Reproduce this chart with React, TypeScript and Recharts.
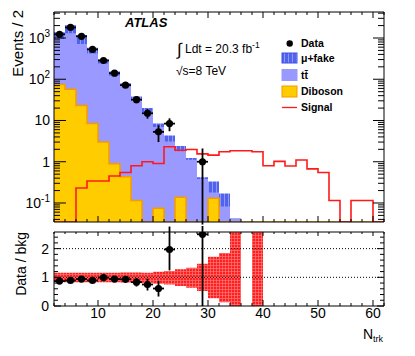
import React from 'react';
import { ComposedChart, Area, Line, Scatter, ErrorBar, XAxis, YAxis, ReferenceLine } from 'recharts';

// ---------- data ----------
const BIN_EDGES = [2, 4, 6, 8, 10, 12, 14, 16, 18, 20, 22, 24, 26, 28, 30, 32, 34, 36, 38, 40, 42, 44, 46, 48, 50, 52, 54, 56, 58, 60, 62];
const BKG_TOTAL = [1380, 2050, 1180, 580, 300, 155, 80, 38, 20, 8.5, 4.3, 2.4, 1.23, 0.42, 0.33, 0.17, 0.042, 0, 0, 0, 0, 0, 0, 0, 0, 0, 0, 0, 0, 0];
const MU_FAKE = [440, 740, 460, 160, 60, 31, 12, 7.6, 4, 1.5, 1.2, 0.6, 0.12, 0.04, 0.15, 0.088, 0, 0, 0, 0, 0, 0, 0, 0, 0, 0, 0, 0, 0, 0];
const DIBOSON = [75, 57, 23, 8.5, 3.0, 0.9, 0.43, 0.115, 0, 0.075, 0, 0.138, 0, 0, 0.13, 0, 0, 0, 0, 0, 0, 0, 0, 0, 0, 0, 0, 0, 0, 0];
const SIGNAL = [0, 0, 0.23, 0.34, 0.34, 0.45, 0.55, 0.8, 1.0, 0.91, 2.3, 1.9, 1.98, 1.55, 1.45, 1.75, 1.84, 1.84, 1.75, 0.8, 1.02, 0.79, 1.1, 0.67, 0.55, 0.115, 0, 0.115, 0.115, 0];

const DATA_X = [3, 5, 7, 9, 11, 13, 15, 17, 19, 21, 23, 29];
const DATA_Y = [1230, 1800, 1100, 530, 285, 140, 72, 32, 15, 5.3, 8.4, 1.0];
const DATA_ERR_LO = [35, 42, 33, 23, 17, 12, 8.5, 5.7, 3.9, 2.3, 2.9, 0.97];
const DATA_ERR_HI = [35, 42, 33, 23, 17, 12, 8.5, 5.7, 3.9, 2.3, 2.9, 1.1];

const RATIO_Y = [0.87, 0.89, 0.94, 0.89, 0.99, 0.94, 0.93, 0.83, 0.75, 0.61, 1.97, 2.5];
const RATIO_ERR_LO = [0.03, 0.025, 0.03, 0.04, 0.06, 0.08, 0.11, 0.15, 0.21, 0.28, 0.73, 2.5];
const RATIO_ERR_HI = [0.03, 0.025, 0.03, 0.04, 0.06, 0.08, 0.11, 0.15, 0.2, 0.27, 0.8, 3];

const BAND_LO = [0.83, 0.83, 0.83, 0.83, 0.83, 0.83, 0.82, 0.82, 0.81, 0.78, 0.75, 0.7, 0.64, 0.52, 0.27, 0.13, 0, 0, 0, 0, 0, 0, 0, 0, 0, 0, 0, 0, 0, 0];
const BAND_HI = [1.16, 1.16, 1.16, 1.16, 1.16, 1.16, 1.17, 1.17, 1.16, 1.19, 1.22, 1.28, 1.33, 1.47, 1.72, 1.85, 3, 0, 3, 0, 0, 0, 0, 0, 0, 0, 0, 0, 0, 0];

// ---------- axes ----------
const X_DOMAIN: [number, number] = [2, 62];
const X_TICKS = [2, 4, 6, 8, 10, 12, 14, 16, 18, 20, 22, 24, 26, 28, 30, 32, 34, 36, 38, 40, 42, 44, 46, 48, 50, 52, 54, 56, 58, 60, 62];
const X_MAJORS = [10, 20, 30, 40, 50, 60];

const Y_MIN = 0.0346;
const Y_MAX = 4270;
const Y_TICKS_MAIN = [0.04, 0.05, 0.06, 0.07, 0.08, 0.09, 0.1, 0.2, 0.3, 0.4, 0.5, 0.6, 0.7, 0.8, 0.9, 1, 2, 3, 4, 5, 6, 7, 8, 9, 10, 20, 30, 40, 50, 60, 70, 80, 90, 100, 200, 300, 400, 500, 600, 700, 800, 900, 1000, 2000, 3000, 4000];
const Y_MAJORS_MAIN = [0.1, 1, 10, 100, 1000];
const Y_LABEL_BASE = ['10', '1', '10', '10', '10'];
const Y_LABEL_EXP = ['-1', '', '', '2', '3'];

const R_DOMAIN: [number, number] = [0, 2.58];
const R_TICKS = [0, 0.2, 0.4, 0.6, 0.8, 1, 1.2, 1.4, 1.6, 1.8, 2, 2.2, 2.4];
const R_MAJORS = [0, 1, 2];

const FONT = '"Liberation Sans", Arial, Helvetica, sans-serif';

const floorLog = (v: number) => (v > Y_MIN ? v : Y_MIN);
const last = BKG_TOTAL.length - 1;

const histTable = BIN_EDGES.map((x, i) => {
  const k = Math.min(i, last);
  return {
    x,
    total: floorLog(BKG_TOTAL[k]),
    ttdib: floorLog(BKG_TOTAL[k] - MU_FAKE[k]),
    dib: floorLog(DIBOSON[k]),
    sig: floorLog(SIGNAL[k]),
  };
});

const ratioTable = BIN_EDGES.map((x, i) => {
  const k = Math.min(i, last);
  return { x, band: [BAND_LO[k], BAND_HI[k]] };
});

const dataPoints = DATA_X.map((x, i) => ({ x, y: DATA_Y[i], ey: [DATA_ERR_LO[i], DATA_ERR_HI[i]], ex: 1 }));
const ratioPoints = DATA_X.map((x, i) => ({ x, y: RATIO_Y[i], ey: [RATIO_ERR_LO[i], RATIO_ERR_HI[i]], ex: 1 }));

// ---------- ticks ----------
type Side = 'l' | 'r' | 't' | 'b';
function makeTick(side: Side, majors: number[], majLen: number, minLen: number, label?: (v: number, x: number, y: number) => React.ReactNode) {
  return (p: any) => {
    const x = p.x as number;
    const y = p.y as number;
    const v = p.payload ? p.payload.value : 0;
    const maj = majors.some((m) => Math.abs(m - v) < 1e-9);
    const len = maj ? majLen : minLen;
    let l: React.ReactNode = null;
    if (side === 'l') l = <line x1={x} y1={y} x2={x + len} y2={y} stroke="#000" strokeWidth={1} />;
    if (side === 'r') l = <line x1={x} y1={y} x2={x - len} y2={y} stroke="#000" strokeWidth={1} />;
    if (side === 'b') l = <line x1={x} y1={y} x2={x} y2={y - len} stroke="#000" strokeWidth={1} />;
    if (side === 't') l = <line x1={x} y1={y} x2={x} y2={y + len} stroke="#000" strokeWidth={1} />;
    return (
      <g>
        {l}
        {maj && label ? label(v, x, y) : null}
      </g>
    );
  };
}

const mainYLabel = (v: number, x: number, y: number) => {
  const i = Y_MAJORS_MAIN.findIndex((m) => Math.abs(m - v) < 1e-9);
  return (
    <text x={x - 4} y={y + 5} textAnchor="end" fontSize={14} fontFamily={FONT} fill="#000">
      {Y_LABEL_BASE[i]}
      {Y_LABEL_EXP[i] ? (
        <tspan dy={-6} fontSize={10}>
          {Y_LABEL_EXP[i]}
        </tspan>
      ) : null}
    </text>
  );
};
const ratioYLabel = (v: number, x: number, y: number) => (
  <text x={x - 5} y={y + 5} textAnchor="end" fontSize={14} fontFamily={FONT} fill="#000">
    {String(v)}
  </text>
);
const xLabel = (v: number, x: number, y: number) => (
  <text x={x} y={y + 12} textAnchor="middle" fontSize={14} fontFamily={FONT} fill="#000">
    {String(v)}
  </text>
);

const AX = { stroke: '#000', strokeWidth: 1 };

const Dot = (p: any) => <circle cx={p.cx} cy={p.cy} r={3.6} fill="#000" />;

export default function App() {
  return (
    <div style={{ position: 'absolute', left: 0, top: 0, width: 415, height: 356, background: '#fff' }}>
      <svg width={0} height={0} style={{ position: 'absolute' }}>
        <defs>
          <pattern id="hatchMu" width="4" height="4" patternUnits="userSpaceOnUse">
            <rect width="4" height="4" fill="#5162ee" />
            <line x1="0.5" y1="0" x2="0.5" y2="4" stroke="#8f98f6" strokeWidth="1" />
          </pattern>
          <pattern id="redGrid" width="3" height="3" patternUnits="userSpaceOnUse">
            <rect width="3" height="3" fill="#ff1f1f" />
            <path d="M0 0.5H3M0.5 0V3" stroke="#ff7a7a" strokeWidth="0.7" />
          </pattern>
        </defs>
      </svg>

      {/* main panel */}
      <div style={{ position: 'absolute', left: 0, top: 0 }}>
        <ComposedChart width={415} height={226} data={histTable} margin={{ top: 11, right: 30, bottom: 3, left: 53 }}>
          <XAxis dataKey="x" type="number" domain={X_DOMAIN} allowDataOverflow ticks={X_TICKS} interval={0} height={1} tickSize={0} tickMargin={0} tickLine={false} axisLine={AX} tick={makeTick('b', X_MAJORS, 6, 3)} />
          <XAxis xAxisId="t" orientation="top" dataKey="x" type="number" domain={X_DOMAIN} allowDataOverflow ticks={X_TICKS} interval={0} height={1} tickSize={0} tickMargin={0} tickLine={false} axisLine={AX} tick={makeTick('t', X_MAJORS, 6, 3)} />
          <YAxis type="number" scale="log" domain={[Y_MIN, Y_MAX]} allowDataOverflow ticks={Y_TICKS_MAIN} interval={0} width={1} tickSize={0} tickMargin={0} tickLine={false} axisLine={AX} tick={makeTick('l', Y_MAJORS_MAIN, 12, 6, mainYLabel)} />
          <YAxis yAxisId="r" orientation="right" type="number" scale="log" domain={[Y_MIN, Y_MAX]} allowDataOverflow ticks={Y_TICKS_MAIN} interval={0} width={1} tickSize={0} tickMargin={0} tickLine={false} axisLine={AX} tick={makeTick('r', Y_MAJORS_MAIN, 11, 6)} />
          <Area dataKey="total" type="stepAfter" baseValue={Y_MIN} fill="url(#hatchMu)" fillOpacity={1} stroke="none" isAnimationActive={false} />
          <Area dataKey="ttdib" type="stepAfter" baseValue={Y_MIN} fill="#9999ff" fillOpacity={1} stroke="none" isAnimationActive={false} />
          <Area dataKey="dib" type="stepAfter" baseValue={Y_MIN} fill="#ffcc00" fillOpacity={1} stroke="#f59a00" strokeWidth={1.5} isAnimationActive={false} />
          <Line dataKey="sig" type="stepAfter" stroke="#ff1a1a" strokeWidth={1.6} dot={false} isAnimationActive={false} />
          <Scatter data={dataPoints} dataKey="y" shape={Dot} isAnimationActive={false}>
            <ErrorBar dataKey="ey" direction="y" width={0} stroke="#000" strokeWidth={1.8} />
            <ErrorBar dataKey="ex" direction="x" width={0} stroke="#000" strokeWidth={1.8} />
          </Scatter>
        </ComposedChart>
      </div>

      {/* ratio panel */}
      <div style={{ position: 'absolute', left: 0, top: 226 }}>
        <ComposedChart width={415} height={130} data={ratioTable} margin={{ top: 5, right: 30, bottom: 49, left: 53 }}>
          <XAxis dataKey="x" type="number" domain={X_DOMAIN} allowDataOverflow ticks={X_TICKS} interval={0} height={1} tickSize={0} tickMargin={0} tickLine={false} axisLine={AX} tick={makeTick('b', X_MAJORS, 6, 3, xLabel)} />
          <XAxis xAxisId="t" orientation="top" dataKey="x" type="number" domain={X_DOMAIN} allowDataOverflow ticks={X_TICKS} interval={0} height={1} tickSize={0} tickMargin={0} tickLine={false} axisLine={AX} tick={makeTick('t', X_MAJORS, 4, 2)} />
          <YAxis type="number" domain={R_DOMAIN} allowDataOverflow ticks={R_TICKS} interval={0} width={1} tickSize={0} tickMargin={0} tickLine={false} axisLine={AX} tick={makeTick('l', R_MAJORS, 7, 4, ratioYLabel)} />
          <YAxis yAxisId="r" orientation="right" type="number" domain={R_DOMAIN} allowDataOverflow ticks={R_TICKS} interval={0} width={1} tickSize={0} tickMargin={0} tickLine={false} axisLine={AX} tick={makeTick('r', R_MAJORS, 7, 4)} />
          <ReferenceLine y={2} stroke="#000" strokeWidth={1} strokeDasharray="1 2" />
          <ReferenceLine y={1} stroke="#000" strokeWidth={1} strokeDasharray="1 2" />
          <Area dataKey="band" type="stepAfter" fill="url(#redGrid)" fillOpacity={1} stroke="none" isAnimationActive={false} />
          <Scatter data={ratioPoints} dataKey="y" shape={Dot} isAnimationActive={false}>
            <ErrorBar dataKey="ey" direction="y" width={0} stroke="#000" strokeWidth={1.8} />
            <ErrorBar dataKey="ex" direction="x" width={0} stroke="#000" strokeWidth={1.8} />
          </Scatter>
        </ComposedChart>
      </div>

      {/* texts & legend */}
      <svg width={415} height={356} style={{ position: 'absolute', left: 0, top: 0, pointerEvents: 'none' }} fontFamily={FONT}>
        <text x={125} y={27} fontSize={13} fontWeight="bold" fontStyle="italic" fill="#000">ATLAS</text>
        <text x={177} y={55} fontSize={17} fill="#000">∫</text>
        <text x={185} y={53} fontSize={12} fill="#000">
          Ldt = 20.3 fb<tspan dy={-5} fontSize={8.5}>-1</tspan>
        </text>
        <text x={176} y={75} fontSize={12} fill="#000">√s=8 TeV</text>

        <circle cx={289.7} cy={43.5} r={3.2} fill="#000" />
        <rect x={282} y={53} width={15} height={10} fill="url(#hatchMu)" stroke="#3b4fe6" strokeWidth={1} />
        <rect x={282} y={69.5} width={15} height={11} fill="#9999ff" stroke="#9999ff" strokeWidth={1} />
        <rect x={282} y={86} width={15} height={11} fill="#ffcc00" stroke="#f59a00" strokeWidth={1} />
        <line x1={282} y1={107.5} x2={297} y2={107.5} stroke="#ff1a1a" strokeWidth={1.3} />
        <g fontSize={10.5} fontWeight="bold" fill="#000">
          <text x={301} y={47.3}>Data</text>
          <text x={301} y={62}>μ+fake</text>
          <text x={301} y={79}>tt̄</text>
          <text x={301} y={95.3}>Diboson</text>
          <text x={301} y={111.3}>Signal</text>
        </g>

        <text transform="translate(23,10) rotate(-90)" textAnchor="end" fontSize={15} fill="#000">Events / 2</text>
        <text transform="translate(26,232) rotate(-90)" textAnchor="end" fontSize={14} fill="#000">Data / bkg</text>
        <text x={383} y={339} textAnchor="end" fontSize={14} fill="#000">
          N<tspan dy={3} fontSize={9}>trk</tspan>
        </text>
      </svg>
    </div>
  );
}
